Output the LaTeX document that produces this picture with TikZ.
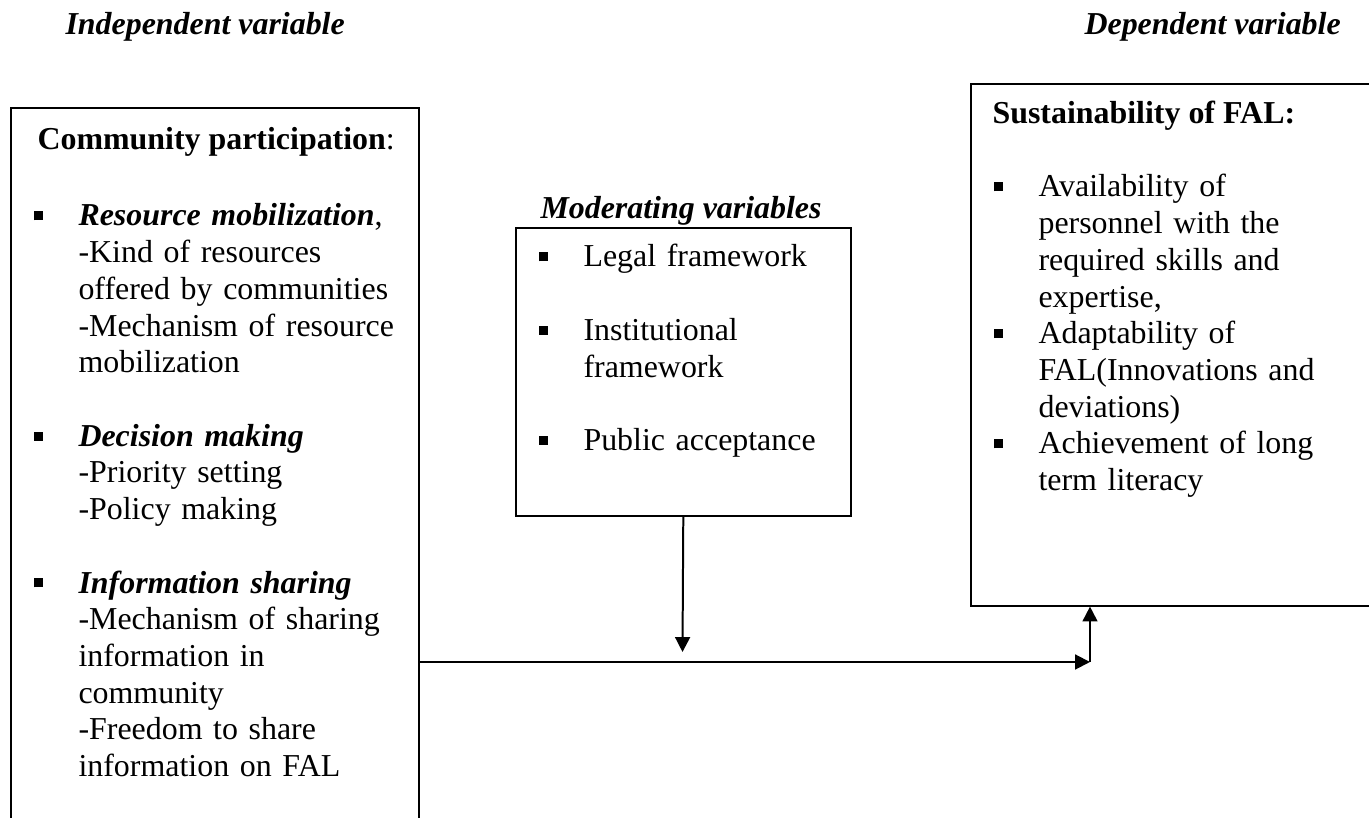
\documentclass[tikz,border=0pt]{standalone}
\usepackage{fontspec}
\setmainfont{Liberation Serif}
\usetikzlibrary{arrows.meta}
\newcommand{\sqb}{\leavevmode\llap{\raisebox{2.1pt}{\rule{3.4pt}{3.4pt}}\hspace{13.2pt}}}
\newcommand{\bi}[1]{\textbf{\textit{#1}}}

\begin{document}
\begin{tikzpicture}[x=0.376pt, y=-0.376pt]
	 \tikzstyle{txt}=[inner sep=0pt, anchor=base west, font=\fontsize{12}{13.8}\selectfont]
	 \tikzstyle{block}=[txt, text width=200pt]
	 \tikzstyle{frame}=[draw, line width=0.6pt, anchor=north west, inner sep=0pt]
	 \tikzstyle{arr}=[draw, line width=0.75pt, -{Triangle[length=5.6pt,width=5.6pt]}]
	 \useasboundingbox (0,0) rectangle (1369,818);
	 \clip (0,0) rectangle (1369,818);
	 % headings
	 \node[txt] (iv) at (65,35) {\bi{Independent variable}};
	 \node[txt] (dv) at (1084,35) {\bi{Dependent variable}};
	 \node[txt] (mvt) at (540,219) {\bi{Moderating variables}};
	 % boxes
	 \node[frame, minimum width=408*0.376pt, minimum height=760*0.376pt] (cp) at (10,107) {};
	 \node[frame, minimum width=335*0.376pt, minimum height=288*0.376pt] (mv) at (515,227) {};
	 \node[frame, minimum width=450*0.376pt, minimum height=522*0.376pt] (sf) at (970,83) {};
	 % community participation
	 \node[txt] (cph) at (37,150) {\textbf{Community participation}:};
	 \node[block] (cpl) at (78,226) {\sqb\bi{Resource mobilization},\\
		-Kind of resources\\
		offered by communities\\
		-Mechanism of resource\\
		mobilization\\[13.8pt]
		\sqb\bi{Decision making}\\
		-Priority setting\\
		-Policy making\\[13.8pt]
		\sqb\bi{Information sharing}\\
		-Mechanism of sharing\\
		information in\\
		community\\
		-Freedom to share\\
		information on FAL};
	 % moderating variables
	 \node[block] (mvl) at (583,267) {\sqb Legal framework\\[13.8pt]
		\sqb Institutional\\
		framework\\[13.8pt]
		\sqb Public acceptance};
	 % sustainability
	 \node[txt] (sfh) at (992,124) {\textbf{Sustainability of FAL:}};
	 \node[block] (sfl) at (1038,197) {\sqb Availability of\\
		personnel with the\\
		required skills and\\
		expertise,\\
		\sqb Adaptability of\\
		FAL(Innovations and\\
		deviations)\\
		\sqb Achievement of long\\
		term literacy};
	 % arrows
	 \coordinate (j) at (1090,662);
	 \coordinate (m) at (682.5,652);
	 \draw[arr] (mv.south) -- (m);
	 \draw[arr] (cp.east |- j) -- (j);
	 \draw[arr] (j) -- (j |- sf.south);
\end{tikzpicture}
\end{document}
